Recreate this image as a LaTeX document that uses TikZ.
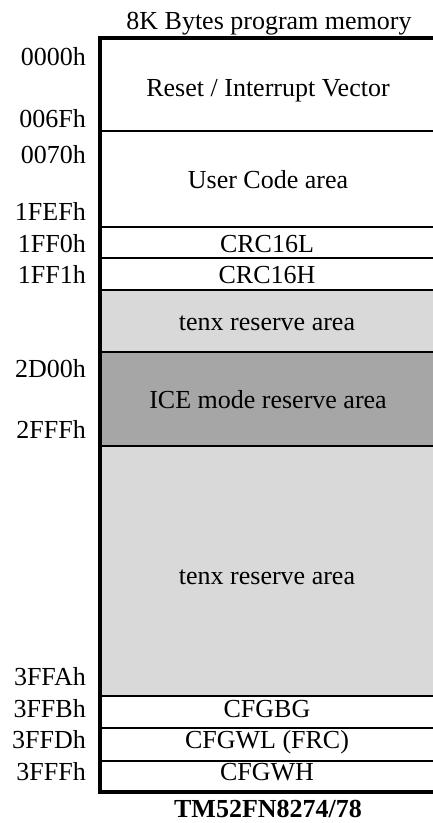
\documentclass[tikz,border=0pt]{standalone}
\usepackage{fontspec}
\setmainfont{Liberation Serif}
\definecolor{lightg}{HTML}{D9D9D9}
\definecolor{darkg}{HTML}{A6A6A6}
\begin{document}
\begin{tikzpicture}[x=1pt,y=-1pt,
  lbl/.style={anchor=base east, font=\fontsize{26}{30}\selectfont, inner sep=0pt},
  cell/.style={anchor=base, font=\fontsize{26}{30}\selectfont, inner sep=0pt},
  sepline/.style={line width=2pt},
  frameline/.style={line width=3.5pt, line cap=rect}]
\useasboundingbox (0,0) rectangle (433,823);
% fills
\fill[lightg] (100,290) rectangle (433,352);
\fill[darkg] (100,352) rectangle (433,446);
\fill[lightg] (100,446) rectangle (433,696);
% separators
\foreach \yy in {131,227,258,290,352,446,696,728,761}
  \draw[sepline] (100,\yy) -- (433,\yy);
% frame
\draw[frameline] (435,38) -- (100,38) -- (100,792) -- (435,792);
% title
\node[cell] (title) at (269,29) {8K Bytes program memory};
% cell texts
\node[cell] (reset) at (268,96) {Reset / Interrupt Vector};
\node[cell] (user) at (268,188) {User Code area};
\node[cell] (crcl) at (267,252) {CRC16L};
\node[cell] (crch) at (267,283) {CRC16H};
\node[cell] (tenx1) at (267,330) {tenx reserve area};
\node[cell] (ice) at (268,408) {ICE mode reserve area};
\node[cell] (tenx2) at (267,584) {tenx reserve area};
\node[cell] (cfgbg) at (267,717) {CFGBG};
\node[cell] (cfgwl) at (267,748) {CFGWL (FRC)};
\node[cell] (cfgwh) at (267,780) {CFGWH};
\node[cell, font=\fontsize{26}{30}\selectfont\bfseries] (chip) at (268,817) {TM52FN8274/78};
% address labels
\node[lbl] (a0000) at (86,65) {0000h};
\node[lbl] (a006F) at (86,127) {006Fh};
\node[lbl] (a0070) at (86,163) {0070h};
\node[lbl] (a1FEF) at (86,220) {1FEFh};
\node[lbl] (a1FF0) at (86,252) {1FF0h};
\node[lbl] (a1FF1) at (86,283) {1FF1h};
\node[lbl] (a2D00) at (86,377) {2D00h};
\node[lbl] (a2FFF) at (86,438) {2FFFh};
\node[lbl] (a3FFA) at (86,685) {3FFAh};
\node[lbl] (a3FFB) at (86,717) {3FFBh};
\node[lbl] (a3FFD) at (86,748) {3FFDh};
\node[lbl] (a3FFF) at (86,780) {3FFFh};
\end{tikzpicture}
\end{document}
